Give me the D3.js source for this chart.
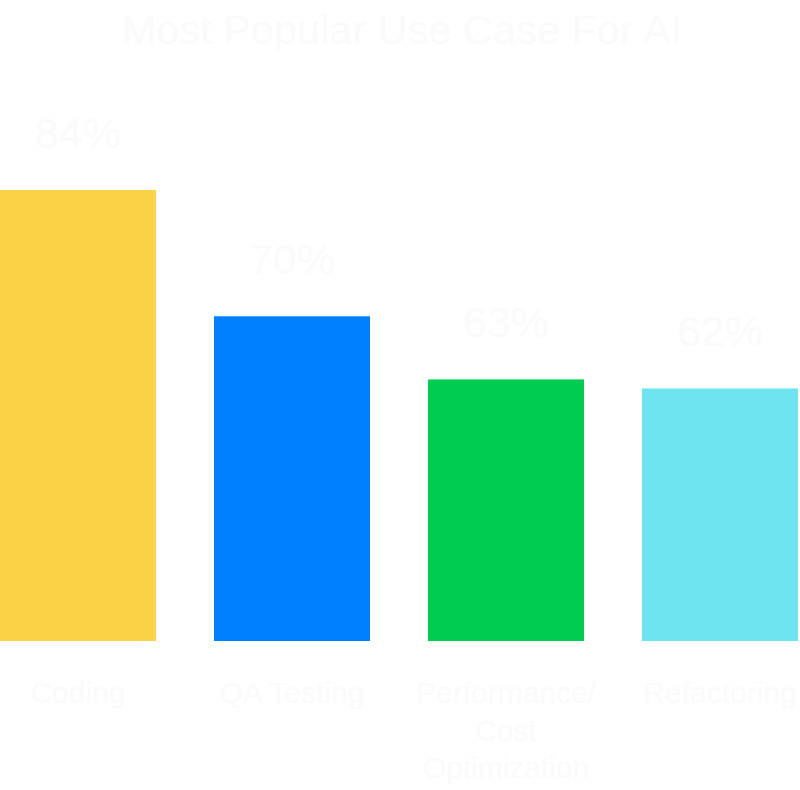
<!DOCTYPE html>
<html>
<head>
<meta charset="utf-8">
<script src="https://cdn.jsdelivr.net/npm/d3@7"></script>
<style>
  body { margin: 0; background: #ffffff; }
  text { font-family: "Liberation Sans", Arial, sans-serif; }
</style>
</head>
<body>
<div id="chart"></div>
<script>
// data
var categories = ["Coding", "QA Testing", "Performance/Cost Optimization", "Refactoring"];
var values = [84, 70, 63, 62];
var colors = ["#fad246", "#0080ff", "#00cc50", "#6ee4f1"];
var title = "Most Popular Use Case For AI";

var width = 800, height = 790;
var baseline = 641;

var svg = d3.select("#chart")
  .append("svg")
    .attr("width", width)
    .attr("height", height);

var x = d3.scaleBand()
  .domain(categories)
  .range([0, 798])
  .paddingInner(0.271)
  .paddingOuter(0);

// y axis does not start at zero
var y = d3.scaleLinear()
  .domain([34, d3.max(values)])
  .range([baseline, 190]);

// bars
svg.selectAll("rect.bar")
  .data(categories)
  .enter().append("rect")
    .attr("class", "bar")
    .attr("x", function(d) { return x(d); })
    .attr("y", function(d, i) { return y(values[i]); })
    .attr("width", x.bandwidth())
    .attr("height", function(d, i) { return baseline - y(values[i]); })
    .attr("fill", function(d, i) { return colors[i]; });

// value labels
svg.selectAll("text.value")
  .data(categories)
  .enter().append("text")
    .attr("class", "value")
    .attr("x", function(d) { return x(d) + x.bandwidth() / 2; })
    .attr("y", function(d, i) { return y(values[i]) - 42; })
    .attr("text-anchor", "middle")
    .style("font-size", "43px")
    .style("fill", "#fafafa")
    .text(function(d, i) { return values[i] + "%"; });

// category labels, wrapped to the bar width
var labels = svg.selectAll("text.cat")
  .data(categories)
  .enter().append("text")
    .attr("class", "cat")
    .attr("x", function(d) { return x(d) + x.bandwidth() / 2; })
    .attr("y", 703)
    .attr("text-anchor", "middle")
    .style("font-size", "30px")
    .style("fill", "#fafafa");

labels.each(function(d) {
  var el = d3.select(this);
  var words = d.split(/(?<=\/)|\s+/);
  var lines = [], line = [];
  var probe = el.append("tspan");
  words.forEach(function(w) {
    line.push(w);
    probe.text(line.join(" ").replace("/ ", "/"));
    if (probe.node().getComputedTextLength() > x.bandwidth() && line.length > 1) {
      line.pop();
      lines.push(line.join(" "));
      line = [w];
    }
  });
  lines.push(line.join(" "));
  probe.remove();
  lines.forEach(function(l, i) {
    el.append("tspan")
      .attr("x", x(d) + x.bandwidth() / 2)
      .attr("dy", i === 0 ? 0 : 37.5)
      .text(l);
  });
});

// title
svg.append("text")
  .attr("x", 402)
  .attr("y", 44)
  .attr("text-anchor", "middle")
  .style("font-size", "41.5px")
  .style("fill", "#fafafa")
  .text(title);
</script>
</body>
</html>
